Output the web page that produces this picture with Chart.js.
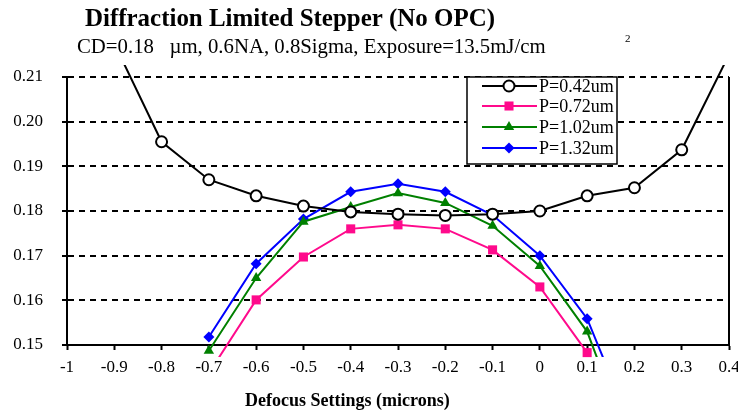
<!DOCTYPE html>
<html>
<head>
<meta charset="utf-8">
<script src="https://cdn.jsdelivr.net/npm/chart.js@4.4.1/dist/chart.umd.min.js"></script>
<style>
  html, body { margin: 0; padding: 0; background: #fff; }
  #wrap { width: 738px; height: 420px; }
</style>
</head>
<body>
<div id="wrap"><canvas id="myChart" width="738" height="420"></canvas></div>
<script>
// values
const defocus = [-1.0, -0.9, -0.8, -0.7, -0.6, -0.5, -0.4, -0.3, -0.2, -0.1, 0, 0.1, 0.2, 0.3, 0.4];
const p042 = [null, 0.2175, 0.1955, 0.1870, 0.1834, 0.1811, 0.1798, 0.1793, 0.1790, 0.1793, 0.1800, 0.1834, 0.1852, 0.1937, 0.2150];
const p072 = [null, null, null, 0.1437, 0.1601, 0.1697, 0.1760, 0.1769, 0.1760, 0.1713, 0.1630, 0.1483, null, null, null];
const p102 = [null, null, null, 0.1487, 0.1650, 0.1776, 0.1809, 0.1840, 0.1818, 0.1767, 0.1677, 0.1530, 0.1250, null, null];
const p132 = [null, null, null, 0.1518, 0.1682, 0.1782, 0.1843, 0.1861, 0.1843, 0.1791, 0.1700, 0.1559, 0.1300, null, null];

const seriesNames = ['P=0.42um', 'P=0.72um', 'P=1.02um', 'P=1.32um'];
const yTicks = [0.15, 0.16, 0.17, 0.18, 0.19, 0.20, 0.21];

const titleText = 'Diffraction Limited Stepper (No OPC)';
const subText = 'CD=0.18   \u00b5m, 0.6NA, 0.8Sigma, Exposure=13.5mJ/cm';
const xTitle = 'Defocus Settings (microns)';

const serif = '"Liberation Serif", "Times New Roman", serif';
const overflow = 12; // marks may run this far past the plot edge

function pts(arr) {
    const out = [];
    arr.forEach(function(v, i) {
        if (v !== null) out.push({ x: defocus[i], y: v });
    });
    return out;
}

// draw text so it spans a given width
function fitText(ctx, text, x, y, width, size, bold) {
    ctx.font = (bold ? 'bold ' : '') + size + 'px ' + serif;
    const w = ctx.measureText(text).width;
    const s = size * width / w;
    ctx.font = (bold ? 'bold ' : '') + s.toFixed(2) + 'px ' + serif;
    ctx.fillText(text, x, y);
}

const extras = {
    id: 'extras',
    beforeDatasetsDraw(chart) {
        const ctx = chart.ctx;
        const a = chart.chartArea;
        ctx.save();
        ctx.strokeStyle = '#000';
        ctx.lineWidth = 2;
        ctx.beginPath();
        ctx.moveTo(a.right, a.top);
        ctx.lineTo(a.right, a.bottom);
        ctx.stroke();
        ctx.restore();
    },
    afterDatasetsDraw(chart) {
        // chart.js skips markers just outside the plot, excel still shows them
        const ctx = chart.ctx;
        const a = chart.chartArea;
        chart.data.datasets.forEach(function(ds, i) {
            chart.getDatasetMeta(i).data.forEach(function(el) {
                const o = el.options;
                const m = o.radius + o.borderWidth;
                const outside = el.y > a.bottom + m || el.y < a.top - m;
                const inClip = el.y < a.bottom + overflow && el.y > a.top - overflow;
                if (outside && inClip) {
                    ctx.save();
                    ctx.fillStyle = o.backgroundColor;
                    ctx.strokeStyle = o.borderColor;
                    ctx.lineWidth = o.borderWidth;
                    Chart.helpers.drawPoint(ctx, o, el.x, el.y);
                    ctx.restore();
                }
            });
        });
    },
    afterDraw(chart) {
        const ctx = chart.ctx;
        ctx.save();
        ctx.fillStyle = '#000';
        ctx.textAlign = 'left';
        ctx.textBaseline = 'alphabetic';
        fitText(ctx, titleText, 85, 26, 410, 22, true);
        fitText(ctx, subText, 77, 53, 469, 18, false);
        ctx.font = '11px ' + serif;
        ctx.fillText('2', 625, 42);
        ctx.textBaseline = 'middle';
        fitText(ctx, xTitle, 245, 401, 205, 14, true);

        // legend
        const lx = 467, ly = 77, lw = 150, lh = 87;
        ctx.fillStyle = '#fff';
        ctx.fillRect(lx, ly, lw, lh);
        ctx.strokeStyle = '#000';
        ctx.lineWidth = 1.5;
        ctx.strokeRect(lx, ly, lw, lh);
        const rows = [86, 106, 127, 148];
        chart.data.datasets.forEach(function(ds, i) {
            const y = rows[i];
            ctx.strokeStyle = ds.borderColor;
            ctx.lineWidth = 2;
            ctx.beginPath();
            ctx.moveTo(482, y);
            ctx.lineTo(537, y);
            ctx.stroke();
            ctx.fillStyle = ds.pointBackgroundColor;
            ctx.strokeStyle = ds.pointBorderColor;
            ctx.lineWidth = ds.pointBorderWidth;
            Chart.helpers.drawPoint(ctx, {
                pointStyle: ds.pointStyle,
                radius: ds.pointRadius,
                rotation: 0,
                borderWidth: ds.pointBorderWidth
            }, 509, y);
            ctx.fillStyle = '#000';
            ctx.font = '18px ' + serif;
            ctx.textBaseline = 'middle';
            ctx.fillText(seriesNames[i], 539, y + 1);
        });
        ctx.restore();
    }
};

const ctx = document.getElementById('myChart').getContext('2d');
const clipBox = { left: 0, top: overflow, right: 0, bottom: overflow };

const myChart = new Chart(ctx, {
    type: 'line',
    data: {
        datasets: [{
            label: seriesNames[0],
            data: pts(p042),
            borderColor: '#000000',
            borderWidth: 2,
            pointStyle: 'circle',
            pointRadius: 5.5,
            pointBackgroundColor: '#ffffff',
            pointBorderColor: '#000000',
            pointBorderWidth: 2,
            clip: clipBox
        }, {
            label: seriesNames[1],
            data: pts(p072),
            borderColor: '#ff0a8c',
            borderWidth: 2,
            pointStyle: 'rect',
            pointRadius: 6.4,
            pointBackgroundColor: '#ff0a8c',
            pointBorderColor: '#ff0a8c',
            pointBorderWidth: 0,
            clip: clipBox
        }, {
            label: seriesNames[2],
            data: pts(p102),
            borderColor: '#008000',
            borderWidth: 2,
            pointStyle: 'triangle',
            pointRadius: 6,
            pointBackgroundColor: '#008000',
            pointBorderColor: '#008000',
            pointBorderWidth: 0,
            clip: clipBox
        }, {
            label: seriesNames[3],
            data: pts(p132),
            borderColor: '#0000ff',
            borderWidth: 2,
            pointStyle: 'rectRot',
            pointRadius: 5.5,
            pointBackgroundColor: '#0000ff',
            pointBorderColor: '#0000ff',
            pointBorderWidth: 0,
            clip: clipBox
        }]
    },
    options: {
        responsive: false,
        animation: false,
        layout: { padding: { left: 0, top: 77, right: 9, bottom: 0 } },
        plugins: {
            legend: { display: false },
            title: { display: false },
            tooltip: { enabled: false }
        },
        scales: {
            x: {
                type: 'linear',
                min: -1,
                max: 0.4,
                afterFit: function(scale) {
                    scale.height = 75;
                    scale.paddingLeft = 0;
                    scale.paddingRight = 0;
                },
                ticks: {
                    stepSize: 0.1,
                    color: '#000',
                    padding: 7,
                    maxRotation: 0,
                    font: { family: serif, size: 17 },
                    callback: function(value) {
                        return String(Math.round(value * 10) / 10);
                    }
                },
                grid: {
                    drawOnChartArea: false,
                    drawTicks: true,
                    tickLength: 5,
                    tickWidth: 2,
                    tickColor: '#000'
                },
                border: { display: true, color: '#000', width: 2 }
            },
            y: {
                min: 0.15,
                max: 0.21,
                afterFit: function(scale) {
                    scale.width = 67;
                    scale.paddingTop = 0;
                    scale.paddingBottom = 0;
                },
                afterBuildTicks: function(scale) {
                    scale.ticks = yTicks.map(v => ({ value: v }));
                },
                ticks: {
                    color: '#000',
                    padding: 19,
                    font: { family: serif, size: 17 },
                    callback: function(value) { return value.toFixed(2); }
                },
                grid: {
                    color: '#000',
                    lineWidth: 2,
                    drawTicks: true,
                    tickLength: 5,
                    tickWidth: 2,
                    tickColor: '#000',
                    tickBorderDash: []
                },
                border: { display: true, color: '#000', width: 2, dash: [6, 5] }
            }
        }
    },
    plugins: [extras]
});
</script>
</body>
</html>
